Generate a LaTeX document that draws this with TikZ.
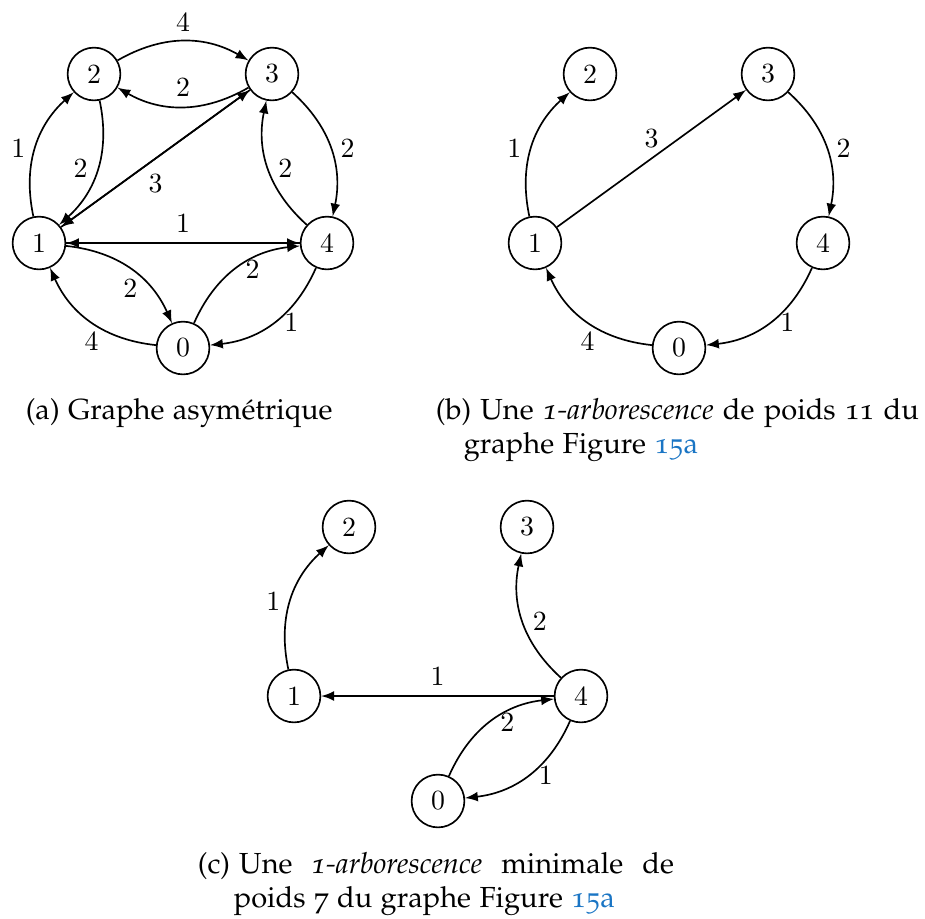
\documentclass[tikz,border=0pt]{standalone}
\usepackage[T1]{fontenc}
\usepackage[osf]{mathpazo}
\usepackage{tikz}
\usetikzlibrary{arrows}
\definecolor{lienbleu}{RGB}{26,117,196}

\begin{document}
\begin{tikzpicture}[x=0.36pt, y=-0.36pt,
            every circle node/.style={
                draw,
                semithick,
                inner sep=0pt,
                minimum size=19pt,
                },
            >=latex,
            font=\usefont{TU}{lmr}{m}{n},
            every path/.style={
                semithick
                },
            legende/.style={
                anchor=base west,
                inner sep=0pt,
                font=\usefont{T1}{\rmdefault}{m}{n}\fontsize{10.45}{12.6}\selectfont
                }]

        \useasboundingbox (0,0) rectangle (925,918);

        % (a) graphe asymetrique
        \node[circle] (a0) at (183,348) {0};
        \node[circle] (a1) at (39,243) {1};
        \node[circle] (a2) at (94,74) {2};
        \node[circle] (a3) at (272,74) {3};
        \node[circle] (a4) at (327,243) {4};

        \draw[->] (a1) edge[bend left] node[left] {1} (a2);
        \draw[->] (a2) edge[bend left] node[left] {2} (a1);
        \draw[->] (a2) edge[bend left] node[above] {4} (a3);
        \draw[->] (a3) edge[bend left] node[above] {2} (a2);
        \draw[->] (a1) -- node[below=2pt] {3} (a3);
        \draw[->] (a3) -- (a1);
        \draw[->] (a1) -- node[above] {1} (a4);
        \draw[->] (a4) -- (a1);
        \draw[->] (a3) edge[bend left] node[right] {2} (a4);
        \draw[->] (a4) edge[bend left] node[right] {2} (a3);
        \draw[->] (a1) edge[bend left] node[below] {2} (a0);
        \draw[->] (a0) edge[bend left] node[below] {4} (a1);
        \draw[->] (a0) edge[bend left] node[right] {2} (a4);
        \draw[->] (a4) edge[bend left] node[right] {1} (a0);

        % (b) 1-arborescence de poids 11
        \node[circle] (b0) at (679,348) {0};
        \node[circle] (b1) at (535,243) {1};
        \node[circle] (b2) at (590,74) {2};
        \node[circle] (b3) at (768,74) {3};
        \node[circle] (b4) at (823,243) {4};

        \draw[->] (b1) edge[bend left] node[left] {1} (b2);
        \draw[->] (b1) -- node[above] {3} (b3);
        \draw[->] (b3) edge[bend left] node[right] {2} (b4);
        \draw[->] (b4) edge[bend left] node[right] {1} (b0);
        \draw[->] (b0) edge[bend left] node[below] {4} (b1);

        % (c) 1-arborescence minimale de poids 7
        \node[circle] (c0) at (438,801) {0};
        \node[circle] (c1) at (294,696) {1};
        \node[circle] (c2) at (349,527) {2};
        \node[circle] (c3) at (527,527) {3};
        \node[circle] (c4) at (581,696) {4};

        \draw[->] (c1) edge[bend left] node[left] {1} (c2);
        \draw[->] (c4) edge[bend left] node[right] {2} (c3);
        \draw[->] (c4) -- node[above] {1} (c1);
        \draw[->] (c0) edge[bend left] node[right] {2} (c4);
        \draw[->] (c4) edge[bend left] node[right] {1} (c0);

        % legendes
        \node[legende] (legA) at (25,419) {(a) Graphe asym\'etrique};
        \node[legende] (legB1) at (435,419) {\makebox[173.9pt][s]{(b)\hspace{3.3pt}Une \emph{1-arborescence} de poids 11 du}};
        \node[legende] (legB2) at (463,453) {graphe Figure \textcolor{lienbleu}{15a}};
        \node[legende] (legC1) at (197,873) {\makebox[171.4pt][s]{(c)\hspace{3.3pt}Une \emph{1-arborescence} minimale de}};
        \node[legende] (legC2) at (233,907) {poids 7 du graphe Figure \textcolor{lienbleu}{15a}};

    \end{tikzpicture}
\end{document}
